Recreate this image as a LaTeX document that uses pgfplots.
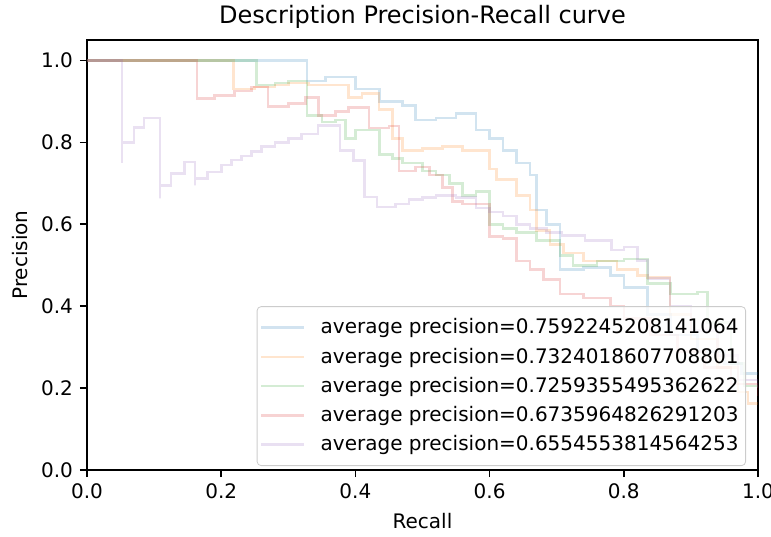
\documentclass[border=0pt]{standalone}
\usepackage{pgfplots}
\pgfplotsset{compat=1.18}
\usepackage{fontspec}
\setmainfont{DejaVu Sans}
\definecolor{c0}{HTML}{1F77B4}
\definecolor{c1}{HTML}{FF7F0E}
\definecolor{c2}{HTML}{2CA02C}
\definecolor{c3}{HTML}{D62728}
\definecolor{c4}{HTML}{9467BD}
\begin{document}
\begin{tikzpicture}
\begin{axis}[
  scale only axis, width=335.5pt, height=215pt,
  xmin=0, xmax=1, ymin=0, ymax=1.05,
  xtick={0,0.2,0.4,0.6,0.8,1.0}, ytick={0,0.2,0.4,0.6,0.8,1.0},
  xticklabel style={/pgf/number format/.cd,fixed,fixed zerofill,precision=1},
  yticklabel style={/pgf/number format/.cd,fixed,fixed zerofill,precision=1},
  /pgf/number format/assume math mode=true,
  tick align=outside, xtick pos=bottom, ytick pos=left,
  major tick length=3.5pt, tick style={black, line width=0.8pt},
  axis line style={line width=0.8pt},
  tick label style={font=\fontsize{10}{12}\selectfont},
  label style={font=\fontsize{10}{12}\selectfont},
  xlabel={Recall}, ylabel={Precision},
  title={Description Precision-Recall curve},
  title style={font=\fontsize{12}{14}\selectfont, yshift=-4pt},
  every axis plot/.append style={const plot, line width=1.3pt, draw opacity=0.2},
  legend image code/.code={\draw[#1] (0pt,0pt) -- (21.5pt,0pt); \path (27pt,0pt);},
  legend cell align=left,
  legend style={at={(1,0)}, anchor=south east, xshift=-6pt, yshift=2pt,
    font=\fontsize{10}{12}\selectfont, draw=black!20, rounded corners=2pt,
    fill=white, fill opacity=0.8, text opacity=1, row sep=1.5pt,
    inner xsep=1.5pt, inner ysep=4pt},
]
\coordinate (bl) at (rel axis cs:0,0);
\coordinate (tr) at (rel axis cs:1,1);
\addplot[c0] coordinates {(0,1.0)(0.328,0.95)(0.355,0.96)(0.40,0.93)(0.436,0.90)(0.47,0.89)(0.49,0.855)(0.52,0.86)(0.55,0.87)(0.58,0.83)(0.60,0.81)(0.62,0.78)(0.64,0.75)(0.66,0.72)(0.67,0.635)(0.685,0.60)(0.705,0.49)(0.74,0.495)(0.78,0.475)(0.80,0.445)(0.835,0.38)(0.87,0.33)(0.91,0.29)(0.95,0.26)(0.975,0.235)(1.0,0.235)};
\addlegendentry{average precision=0.7592245208141064}
\addplot[c1] coordinates {(0,1.0)(0.218,0.93)(0.25,0.935)(0.28,0.94)(0.30,0.945)(0.33,0.94)(0.36,0.94)(0.39,0.91)(0.41,0.92)(0.435,0.88)(0.455,0.81)(0.47,0.78)(0.50,0.785)(0.53,0.79)(0.56,0.78)(0.60,0.735)(0.61,0.71)(0.64,0.67)(0.66,0.635)(0.67,0.585)(0.69,0.55)(0.71,0.53)(0.74,0.51)(0.79,0.49)(0.82,0.475)(0.835,0.47)(0.869,0.38)(0.90,0.32)(0.94,0.25)(0.97,0.19)(0.985,0.163)(1.0,0.163)};
\addlegendentry{average precision=0.7324018607708801}
\addplot[c2] coordinates {(0,1.0)(0.253,0.94)(0.28,0.945)(0.30,0.95)(0.328,0.865)(0.35,0.85)(0.37,0.855)(0.385,0.81)(0.40,0.83)(0.436,0.77)(0.455,0.76)(0.47,0.75)(0.50,0.73)(0.52,0.72)(0.54,0.70)(0.56,0.67)(0.58,0.68)(0.60,0.60)(0.62,0.59)(0.64,0.58)(0.67,0.56)(0.705,0.524)(0.724,0.50)(0.76,0.51)(0.80,0.515)(0.835,0.456)(0.87,0.43)(0.91,0.435)(0.925,0.36)(0.96,0.26)(0.98,0.205)(1.0,0.205)};
\addlegendentry{average precision=0.7259355495362622}
\addplot[c3] coordinates {(0,1.0)(0.164,0.907)(0.19,0.915)(0.22,0.925)(0.245,0.935)(0.27,0.888)(0.30,0.895)(0.326,0.91)(0.345,0.865)(0.37,0.875)(0.39,0.885)(0.42,0.835)(0.45,0.84)(0.465,0.73)(0.49,0.74)(0.51,0.72)(0.53,0.69)(0.545,0.655)(0.56,0.65)(0.585,0.65)(0.60,0.57)(0.62,0.565)(0.64,0.51)(0.66,0.49)(0.68,0.465)(0.705,0.43)(0.74,0.42)(0.78,0.40)(0.80,0.37)(0.84,0.33)(0.88,0.29)(0.92,0.25)(0.96,0.21)(1.0,0.18)};
\addlegendentry{average precision=0.6735964826291203}
\addplot[c4] coordinates {(0,1.0)(0.052,0.75)(0.052,0.80)(0.070,0.837)(0.085,0.86)(0.109,0.663)(0.109,0.695)(0.125,0.724)(0.145,0.752)(0.161,0.695)(0.161,0.712)(0.18,0.728)(0.20,0.745)(0.215,0.757)(0.23,0.767)(0.245,0.778)(0.26,0.79)(0.28,0.80)(0.30,0.81)(0.32,0.82)(0.344,0.841)(0.377,0.78)(0.397,0.756)(0.414,0.667)(0.432,0.642)(0.46,0.65)(0.48,0.66)(0.50,0.665)(0.52,0.67)(0.55,0.665)(0.58,0.64)(0.60,0.63)(0.62,0.62)(0.64,0.60)(0.66,0.59)(0.685,0.58)(0.708,0.573)(0.742,0.561)(0.782,0.537)(0.80,0.545)(0.82,0.512)(0.836,0.468)(0.869,0.40)(0.90,0.34)(0.94,0.28)(0.97,0.22)(1.0,0.2)};
\addlegendentry{average precision=0.6554553814564253}
\end{axis}
\pgfresetboundingbox
\path[use as bounding box] ([shift={(-43.5pt,-33pt)}]bl) rectangle ([shift={(6.5pt,20pt)}]tr);
\end{tikzpicture}
\end{document}
